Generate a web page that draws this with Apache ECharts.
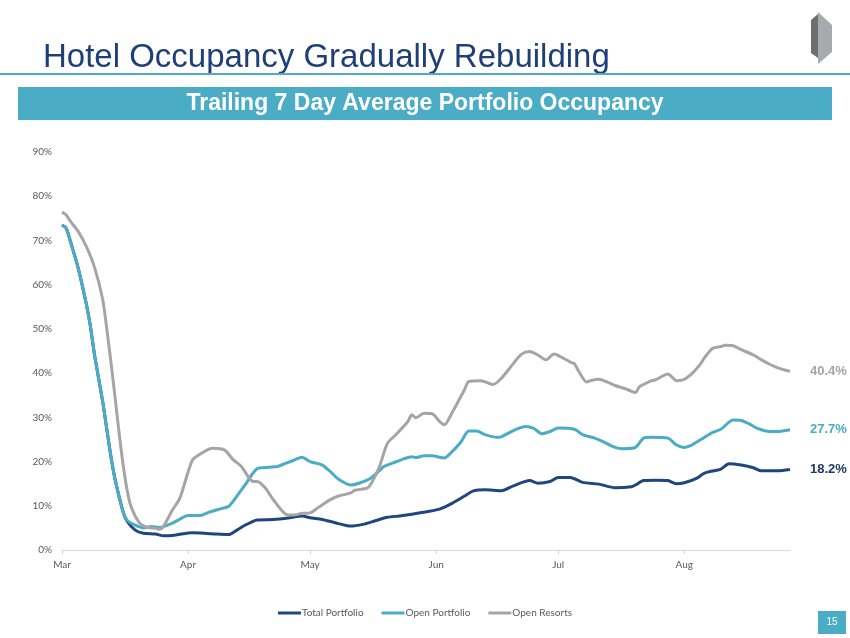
<!DOCTYPE html>
<html>
<head>
<meta charset="utf-8">
<script src="https://cdn.jsdelivr.net/npm/echarts@6/dist/echarts.min.js"></script>
<style>
  html, body { margin: 0; padding: 0; background: #ffffff; }
  #chart { width: 850px; height: 638px; }
</style>
</head>
<body>
<div id="chart"></div>
<script>
// ---- Data (x = days since Mar 1, y = occupancy %) ----
const monthStarts = [0, 31, 61, 92, 122, 153];
const monthLabels = ['Mar', 'Apr', 'May', 'Jun', 'Jul', 'Aug'];
const yTicks = [0, 10, 20, 30, 40, 50, 60, 70, 80, 90];
const seriesNames = ['Total Portfolio', 'Open Portfolio', 'Open Resorts'];
const endLabels = ['18.2%', '27.7%', '40.4%'];

const totalPortfolio = [[0,73.5],[1,72.8],[2,70.0],[4,63.7],[6,55.5],[7,50.5],[8,44.1],[10,33.6],[11,27.4],[12,21.3],[13,16.2],[15,8.7],[16,6.5],[18,4.5],[20,3.8],[23,3.6],[25,3.2],[28,3.4],[32,3.9],[35,3.8],[38,3.6],[41,3.5],[43,4.5],[45,5.6],[48,6.8],[52,6.9],[56,7.3],[59,7.7],[61,7.3],[64,6.9],[67,6.2],[71,5.4],[74,5.8],[77,6.6],[80,7.4],[83,7.7],[86,8.1],[90,8.7],[93,9.3],[96,10.6],[99,12.2],[101,13.3],[104,13.6],[108,13.4],[111,14.5],[115,15.7],[117,15.1],[120,15.5],[122,16.4],[125,16.4],[128,15.3],[132,14.9],[136,14.1],[140,14.3],[141,14.7],[143,15.7],[146,15.8],[149,15.7],[151,15.0],[153,15.2],[156,16.2],[158,17.4],[162,18.3],[164,19.5],[167,19.2],[170,18.6],[172,17.9],[176,17.9],[179,18.2]];

const openPortfolio = [[0,73.5],[1,72.8],[2,70.0],[4,63.7],[6,55.5],[7,50.5],[8,44.1],[10,33.6],[11,27.4],[12,21.3],[13,16.2],[15,8.7],[16,6.7],[18,5.6],[20,5.0],[22,5.3],[24,5.1],[27,6.0],[29,7.0],[31,7.8],[34,7.8],[36,8.5],[39,9.3],[41,9.9],[43,12.2],[45,14.7],[48,18.4],[51,18.7],[53,18.9],[55,19.6],[57,20.3],[59,21.0],[61,20.0],[64,19.2],[66,17.7],[68,16.0],[71,14.7],[73,15.1],[76,16.3],[78,17.9],[79,18.8],[82,19.9],[84,20.6],[86,21.1],[87,20.9],[89,21.3],[91,21.3],[94,20.8],[95,21.4],[98,24.3],[100,26.9],[102,26.9],[104,26.1],[107,25.5],[108,25.6],[111,27.0],[114,27.9],[116,27.5],[118,26.3],[120,26.8],[122,27.6],[126,27.3],[128,26.1],[131,25.3],[133,24.5],[136,23.2],[138,22.9],[141,23.2],[143,25.3],[145,25.5],[149,25.3],[151,23.8],[153,23.2],[155,23.8],[158,25.5],[160,26.6],[162,27.3],[165,29.4],[167,29.3],[169,28.5],[171,27.5],[174,26.8],[176,26.8],[179,27.2]];

const openResorts = [[0,76.4],[1,75.8],[2,74.4],[4,72.0],[6,68.6],[8,63.9],[10,56.7],[11,50.1],[12,42.7],[13,34.9],[14,26.8],[15,19.5],[16,13.6],[17,9.8],[19,6.2],[21,5.1],[23,4.9],[24,4.7],[25,5.4],[27,8.8],[29,11.8],[32,20.2],[34,21.7],[37,23.0],[40,22.6],[42,20.5],[44,19.0],[47,15.5],[48,15.5],[50,14.0],[52,11.3],[55,8.1],[57,7.9],[59,8.3],[61,8.4],[63,9.6],[66,11.4],[68,12.2],[71,12.9],[72,13.5],[75,14.0],[76,15.0],[78,18.7],[80,24.1],[82,26.0],[85,29.0],[86,30.6],[87,29.9],[89,30.9],[91,30.8],[93,28.9],[94,28.3],[96,31.2],[99,36.3],[100,38.1],[103,38.3],[106,37.4],[108,38.8],[111,42.2],[113,44.3],[115,44.9],[117,44.1],[119,43.0],[121,44.3],[123,43.5],[125,42.5],[126,42.1],[127,40.5],[129,38.0],[130,38.3],[132,38.6],[134,38.0],[136,37.2],[139,36.3],[141,35.6],[142,36.9],[145,38.3],[146,38.5],[149,39.8],[150,39.1],[151,38.3],[153,38.6],[155,40.0],[157,42.1],[158,43.5],[160,45.6],[162,46.0],[163,46.3],[165,46.2],[167,45.3],[170,44.1],[172,43.0],[174,42.0],[176,41.2],[179,40.4]];

// ---- Styling ----
const colors = ['#1F467E', '#4BACC6', '#A5A5A5'];
const teal = '#4BACC6';
const navy = '#1F3F78';

const chart = echarts.init(document.getElementById('chart'), null, { renderer: 'canvas' });

const seriesData = [totalPortfolio, openPortfolio, openResorts];

const option = {
  animation: false,
  backgroundColor: '#ffffff',
  grid: { left: 62, right: 60, top: 152, bottom: 88 },
  legend: {
    top: 603,
    left: 'center',
    icon: 'rect',
    itemWidth: 23,
    itemHeight: 3,
    itemGap: 18,
    textStyle: { color: '#595959', fontSize: 10, fontFamily: 'Lato', padding: [0, 0, 0, -4] },
    data: seriesNames
  },
  xAxis: {
    type: 'value',
    min: 0,
    max: 179,
    splitLine: { show: false },
    axisLine: { show: true, lineStyle: { color: '#D9D9D9', width: 1 } },
    axisTick: { show: true, customValues: monthStarts, length: 4, lineStyle: { color: '#D9D9D9' } },
    axisLabel: {
      customValues: monthStarts,
      formatter: function (v) { const i = monthStarts.indexOf(v); return i >= 0 ? monthLabels[i] : ''; },
      color: '#595959', fontSize: 10, fontFamily: 'Lato', margin: 10
    }
  },
  yAxis: {
    type: 'value',
    min: 0,
    max: 90,
    interval: 10,
    splitLine: { show: false },
    axisLine: { show: false },
    axisTick: { show: false },
    axisLabel: {
      customValues: yTicks,
      formatter: '{value}%',
      color: '#595959', fontSize: 10, fontFamily: 'Lato', margin: 10
    }
  },
  series: seriesNames.map(function (name, i) {
    return {
      name: name,
      type: 'line',
      data: seriesData[i],
      showSymbol: false,
      symbol: 'none',
      smooth: 0.25,
      lineStyle: { color: colors[i], width: 3 },
      itemStyle: { color: colors[i] },
      z: 2 + i,
      endLabel: {
        show: true,
        formatter: endLabels[i],
        distance: 20,
        color: i === 0 ? '#1F3864' : colors[i],
        fontSize: 13,
        fontWeight: 'bold',
        fontFamily: 'Liberation Sans, Arial, sans-serif'
      }
    };
  }),
  graphic: [
    // title
    {
      type: 'text', left: 43, top: 41,
      style: { text: 'Hotel Occupancy Gradually Rebuilding', fill: navy, font: '33px "Liberation Sans", Arial, sans-serif' }
    },
    // rule under title
    { type: 'rect', shape: { x: 0, y: 73, width: 850, height: 2 }, style: { fill: teal } },
    // banner
    { type: 'rect', shape: { x: 18, y: 87, width: 814, height: 33 }, style: { fill: teal } },
    {
      type: 'text', x: 425, y: 104,
      style: { text: 'Trailing 7 Day Average Portfolio Occupancy', fill: '#ffffff', font: 'bold 23px "Liberation Sans", Arial, sans-serif', align: 'center', verticalAlign: 'middle' }
    },
    // logo
    { type: 'polygon', shape: { points: [[811, 20], [818, 14], [818, 58], [811, 53]] }, style: { fill: '#6D6E71' } },
    { type: 'polygon', shape: { points: [[818, 12], [832, 25], [832, 52], [818, 64]] }, style: { fill: '#A7A9AC' } },
    // page number
    { type: 'rect', shape: { x: 818, y: 611, width: 28, height: 23 }, style: { fill: teal } },
    {
      type: 'text', x: 832, y: 622.5,
      style: { text: '15', fill: '#ffffff', font: '10px "Liberation Sans", Arial, sans-serif', align: 'center', verticalAlign: 'middle' }
    }
  ]
};

chart.setOption(option);
</script>
</body>
</html>
